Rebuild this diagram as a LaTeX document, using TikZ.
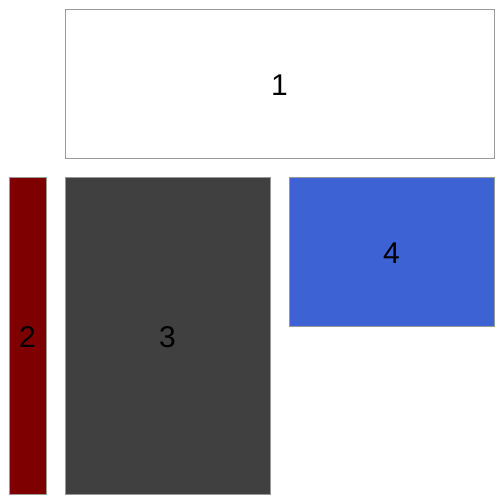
\documentclass[tikz,border=0pt]{standalone}
\usepackage{fontspec}
\setmainfont{Liberation Sans}
\usetikzlibrary{positioning}
\definecolor{darkred}{HTML}{7F0000}
\definecolor{darkgray}{HTML}{404040}
\definecolor{royalblue}{HTML}{3D62D4}
\tikzset{
    tile/.style={draw=gray!80, line width=0.8pt, inner sep=0pt, font=\fontsize{30}{30}\selectfont},
    tilelabel/.style={inner sep=0pt, font=\fontsize{30}{30}\selectfont, yshift=-1.5pt},
}

\begin{document}
\begin{tikzpicture}[x=1pt, y=-1pt]
    \useasboundingbox (0,0) rectangle (504,504);

    % tiles
    \node[tile, fill=white, minimum width=429pt, minimum height=149pt] (t1) at (279.5,83.5) {};
    \node[tile, fill=darkred, minimum width=37pt, minimum height=317pt] (t2) at (27.5,335.5) {};
    \node[tile, fill=darkgray, minimum width=205pt, minimum height=317pt] (t3) at (167.5,335.5) {};
    \node[tile, fill=royalblue, minimum width=205pt, minimum height=149pt] (t4) at (391.5,251.5) {};

    % labels
    \node[tilelabel] (l1) at (t1) {1};
    \node[tilelabel] (l2) at (t2) {2};
    \node[tilelabel] (l3) at (t3) {3};
    \node[tilelabel] (l4) at (t4) {4};
\end{tikzpicture}
\end{document}
